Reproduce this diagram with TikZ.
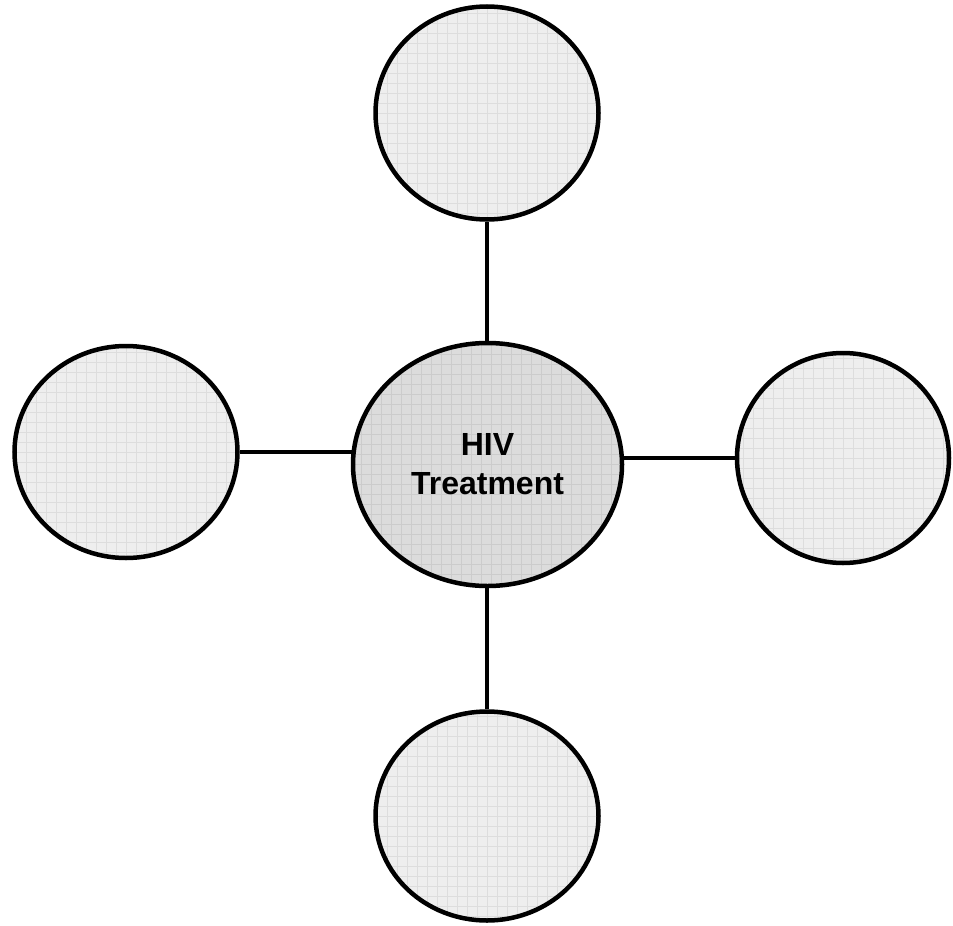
\documentclass[tikz,border=0pt]{standalone}
\usepackage{fontspec}
\setmainfont{Liberation Sans}
\usetikzlibrary{shapes.geometric,backgrounds}
\definecolor{hubfill}{RGB}{220,220,220}
\definecolor{spokefill}{RGB}{238,238,238}

\begin{document}
\begin{tikzpicture}[x=1pt, y=-1pt,
    bubble/.style={ellipse, draw, line width=4.5pt, inner sep=0pt,
        path picture={\draw[black, opacity=0.07, line width=0.8pt]
            (path picture bounding box.south west) grid[step=10pt]
            (path picture bounding box.north east);}},
    spoke/.style={bubble, fill=spokefill},
    hub/.style={bubble, fill=hubfill, align=center,
        font=\fontsize{32}{39}\selectfont\bfseries},
    link/.style={line width=3.5pt}]
\useasboundingbox (0,0) rectangle (953,926);

\node[hub, minimum width=269pt, minimum height=243pt] (hub) at (487.5,464.5) {HIV\\Treatment};

\foreach \n/\x/\y/\w/\h in {
    sTop/487/113/223/213, sLeft/126/452/223/212,
    sRight/843/458/212/210, sBottom/487/816/223/209}
    \node[spoke, minimum width=\w pt, minimum height=\h pt] (\n) at (\x,\y) {};

\begin{scope}[on background layer]
\draw[link] (sTop) -- (sTop |- hub);
\draw[link] (sBottom) -- (sBottom |- hub);
\draw[link] (sLeft) -- (sLeft -| hub);
\draw[link] (sRight) -- (sRight -| hub);
\end{scope}

\end{tikzpicture}
\end{document}
